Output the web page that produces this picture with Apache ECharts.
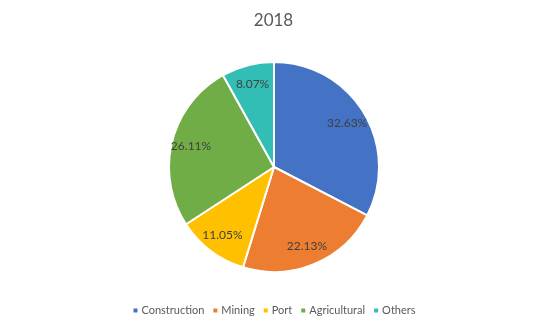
<!DOCTYPE html>
<html>
<head>
<meta charset="utf-8">
<script src="https://cdn.jsdelivr.net/npm/echarts@6/dist/echarts.min.js"></script>
<style>
  html, body { margin: 0; padding: 0; background: #ffffff; }
  #chart { width: 547px; height: 326px; }
</style>
</head>
<body>
<div id="chart"></div>
<script>
// Share of demand by application sector, 2018 (%)
const titleText = '2018';
const categories = ['Construction', 'Mining', 'Port', 'Agricultural', 'Others'];
const shares = [32.63, 22.13, 11.05, 26.11, 8.07];
const colors = ['#4472C4', '#ED7D31', '#FFC000', '#70AD47', '#33BEB5'];

const FONT = 'Lato, "Open Sans", sans-serif';
const pieData = categories.map((name, i) => ({
  name: name,
  value: shares[i],
  itemStyle: { color: colors[i] }
}));

const chart = echarts.init(document.getElementById('chart'), null, { renderer: 'canvas' });
chart.setOption({
  animation: false,
  backgroundColor: '#ffffff',
  title: {
    text: titleText,
    left: 'center',
    top: 7,
    textStyle: { fontFamily: FONT, fontSize: 17, fontWeight: 'normal', color: '#595959' }
  },
  legend: {
    data: categories,
    bottom: 5,
    left: 'center',
    icon: 'rect',
    itemWidth: 6,
    itemHeight: 6,
    itemGap: 7,
    textStyle: { fontFamily: FONT, fontSize: 11, color: '#595959', padding: [0, 0, 0, -2] }
  },
  series: [
    {
      // the filled pie
      type: 'pie',
      center: [274, 167],
      radius: [0, 105],
      startAngle: 90,
      clockwise: true,
      silent: true,
      data: pieData,
      itemStyle: { borderColor: '#ffffff', borderWidth: 2 },
      label: { show: false },
      labelLine: { show: false }
    },
    {
      // transparent ring carrying the percentage labels further out
      type: 'pie',
      center: [274, 167],
      radius: [60, 105],
      startAngle: 90,
      clockwise: true,
      silent: true,
      data: categories.map((name, i) => ({ name: name, value: shares[i] })),
      itemStyle: { color: 'rgba(0,0,0,0)', borderWidth: 0 },
      label: {
        show: true,
        position: 'inside',
        formatter: p => p.value.toFixed(2) + '%',
        fontFamily: FONT,
        fontSize: 12,
        color: '#404040'
      },
      labelLine: { show: false }
    }
  ]
});
</script>
</body>
</html>
